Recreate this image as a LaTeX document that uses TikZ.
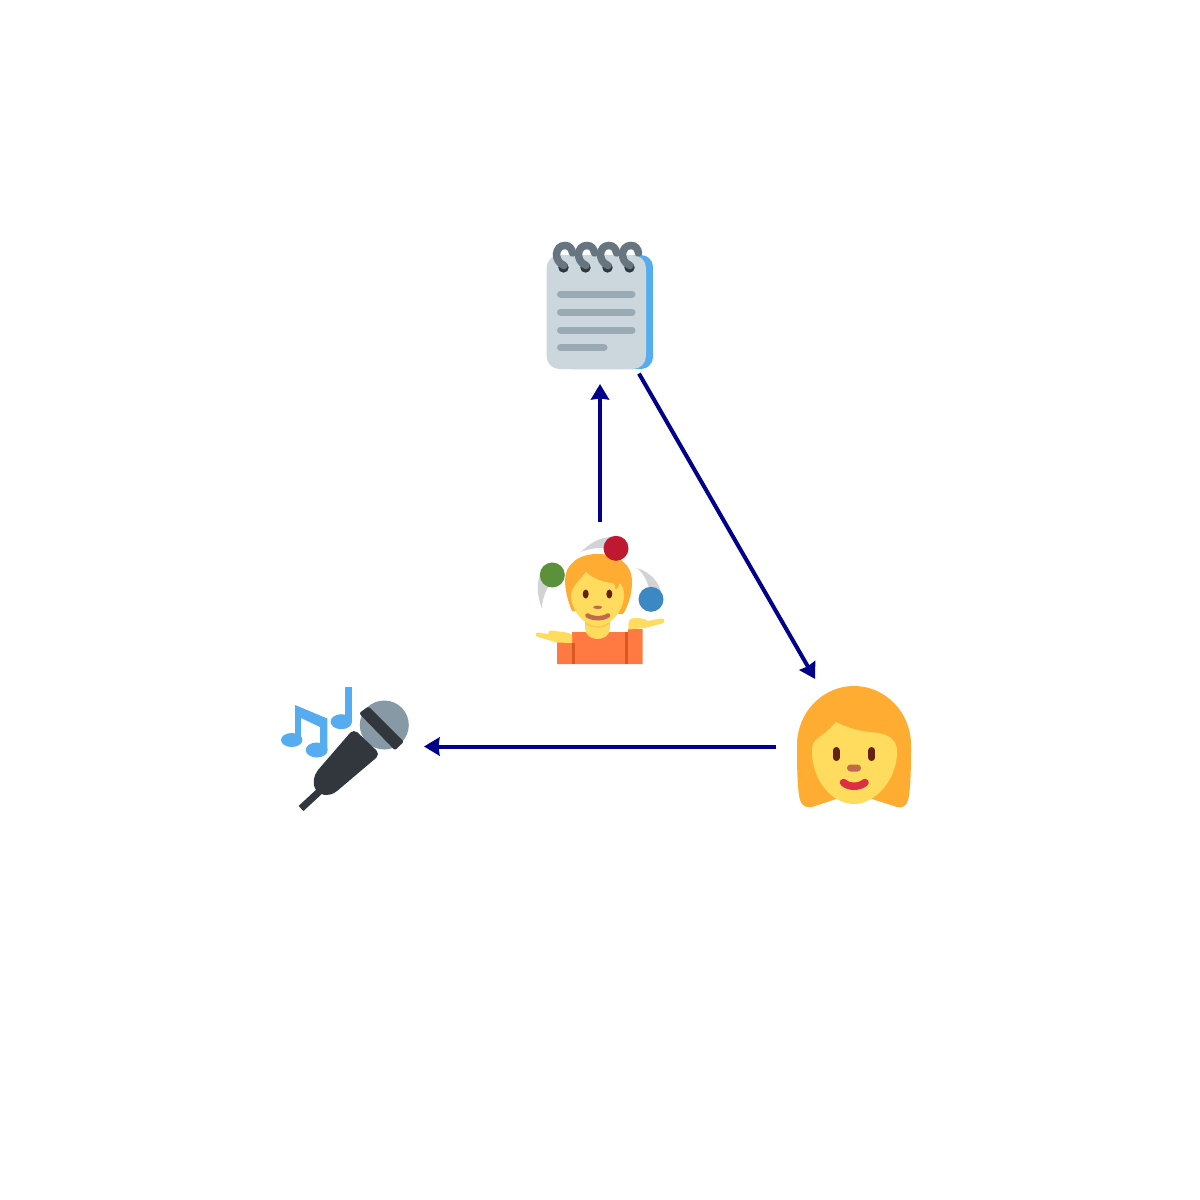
\documentclass[tikz,border=0pt]{standalone}
\usepackage{xcolor}
\usepackage{tikz}
\usetikzlibrary{arrows.meta}
\definecolor{arrowblue}{HTML}{00008B}
\definecolor{hairorange}{HTML}{FFAC33}
\definecolor{skin}{HTML}{FFDC5D}
\definecolor{skindark}{HTML}{F9CA55}
\definecolor{eyebrown}{HTML}{662113}
\definecolor{nosebrown}{HTML}{C1694F}
\definecolor{lipred}{HTML}{DD2E44}
\definecolor{notegrey}{HTML}{CCD6DD}
\definecolor{linegrey}{HTML}{99AAB5}
\definecolor{ringgrey}{HTML}{66757F}
\definecolor{darkgrey}{HTML}{31373D}
\definecolor{skyblue}{HTML}{55ACEE}
\definecolor{micgrey}{HTML}{8899A6}
\definecolor{shirt}{HTML}{FF7A42}
\definecolor{shirtdark}{HTML}{D9581F}
\definecolor{swoosh}{HTML}{D1D3D4}
\definecolor{ballred}{HTML}{BE1931}
\definecolor{ballgreen}{HTML}{5C913B}
\definecolor{ballblue}{HTML}{3B88C3}
\tikzset{>={Stealth[length=0.31cm,width=0.36cm,inset=0.02cm]}}
\tikzset{spot/.style={circle,minimum size=3.12cm,inner sep=0pt,outer sep=0pt}}
\tikzset{link/.style={->,arrowblue,line width=0.08cm}}

\begin{document}
\begin{tikzpicture}[x=0.02cm,y=-0.02cm]
\useasboundingbox (0,0) rectangle (1200,1200);

\node[spot] (juggler) at (600,600) {};
\node[spot] (notepad) at (600,306) {};
\node[spot] (woman) at (854,746.5) {};
\node[spot] (mic) at (346,746.5) {};

\draw[link] (juggler)--(notepad);
\draw[link] (notepad)--(woman);
\draw[link] (woman)--(mic);

%notepad
\fill[skyblue,rounded corners=0.24cm] (560,255) rectangle (653,369);
\fill[notegrey,rounded corners=0.26cm] (546.5,255) rectangle (646,369);
\foreach \y/\xend in {294/632,312/632,330/632,347.5/604}
  \draw[linegrey,line width=0.14cm,line cap=round] (560.5,\y)--(\xend,\y);
\foreach \dx in {0,22,44,66}{
  \fill[darkgrey] (563.5+\dx,267.5) circle (5.2);
  \draw[ringgrey,line width=0.15cm,line cap=round] (564+\dx,265.5) .. controls (558+\dx,263) and (556.5+\dx,258) .. (556.5+\dx,254) .. controls (557+\dx,249) and (560+\dx,245.5) .. (565+\dx,245.5) .. controls (569.5+\dx,245.5) and (572+\dx,249) .. (572.5+\dx,253);
}

%juggler
\fill[swoosh] (541.7,608) .. controls (535,590) and (536,570) .. (552,562) -- (556,575) .. controls (548,585) and (543,595) .. (541.7,608);
\fill[swoosh] (581,552) .. controls (590,543) and (600,537) .. (612,537) -- (615,550) .. controls (605,546) and (590,548) .. (581,552);
\fill[swoosh] (637,568) .. controls (650,572) and (660,582) .. (662,596) -- (650,598) .. controls (650,585) and (645,575) .. (637,568);
\fill[hairorange] (597,554) .. controls (620,554) and (632,565) .. (632,582) .. controls (632,595) and (628,606) .. (623,614) -- (572,611) .. controls (568,602) and (565,590) .. (565,580) .. controls (565,565) and (578,554) .. (597,554);
\fill[shirt] (557,664) -- (557,642) -- (572,642) -- (572,632) -- (628,632) -- (628,629) -- (642.7,629) -- (642.7,664) -- cycle;
\fill[shirtdark] (571.7,642.5) rectangle (575,664);
\fill[shirtdark] (625,632) rectangle (628.3,664);
\fill[skin] (585,620) rectangle (610,630);
\fill[skin] (585,628) .. controls (585,635) and (591,639) .. (597.5,639) .. controls (604,639) and (610,635) .. (610,628) -- cycle;
\fill[skindark] (585,624) .. controls (592,629) and (603,629) .. (610,624) -- (610,621) -- (585,621) -- cycle;
\fill[skin] (586,572) .. controls (592,578) and (602,582) .. (612,583) .. controls (615,584) and (616,587) .. (615,589) .. controls (617,590) and (619,586) .. (620,583) .. controls (623,587) and (624,591) .. (624,594) .. controls (624,612) and (610,626) .. (597.5,626) .. controls (585,626) and (571,612) .. (571,594) .. controls (573,585) and (580,580) .. (586,572);
\fill[eyebrown] (585.7,594) ellipse [x radius=3,y radius=4.5];
\fill[eyebrown] (609.3,594) ellipse [x radius=3,y radius=4.5];
\fill[nosebrown] (597.7,607.3) ellipse [x radius=4.5,y radius=1.7];
\draw[nosebrown,line width=0.09cm,line cap=round] (587.5,615.5) .. controls (593,619) and (603,619) .. (608,615.5);
\fill[skin] (538,632.5) .. controls (535,633) and (535,636) .. (538,637) -- (557,642.5) -- (572,643) -- (572,635) .. controls (570,632) and (560,632) .. (552,630.5) .. controls (550,630) and (548,631) .. (548,634) -- cycle;
\fill[skin] (628.3,629.5) -- (645,628) -- (662,623.5) .. controls (665.5,622.5) and (665,617.5) .. (661,618.5) -- (648,621) .. controls (645,618) and (636,617.5) .. (632,618.5) .. controls (629,619.5) and (628,622) .. (628.3,629.5);
\fill[ballred] (616,548.3) circle (12.5);
\fill[ballgreen] (552.3,575) circle (12.5);
\fill[ballblue] (651,599.3) circle (12.5);

%microphone
\fill[skyblue] (295,705) -- (327.3,718.5) -- (327.3,750) -- (320,750) -- (320,727) -- (301,718) -- (301,740) -- (295,740) -- cycle;
\fill[skyblue] (291.7,740) ellipse [x radius=10.7,y radius=7];
\fill[skyblue] (316.7,750) ellipse [x radius=11,y radius=7.5];
\fill[skyblue] (345,686.7) rectangle (352,722);
\fill[skyblue] (341.3,721.7) ellipse [x radius=10.7,y radius=7.5];
\fill[micgrey] (384.3,725) circle (24.5);
\filldraw[darkgrey,line width=0.08cm,line join=round] (362,713.5) -- (368.3,709) -- (401,741.7) -- (395,747.5) -- cycle;
\draw[darkgrey,line width=0.14cm] (301,808.5) -- (322,789);
\filldraw[darkgrey,line width=0.2cm,line join=round] (354,736) -- (373,754) -- (334,787) .. controls (328,792) and (322,790) .. (320,787) .. controls (318,784) and (318,778) .. (322,773) -- cycle;

%woman
\fill[hairorange] (854,686) .. controls (885,686) and (911,712) .. (911,745) .. controls (911,760) and (911,790) .. (908,800) .. controls (906,807) and (902,808) .. (897,807) -- (872,799) -- (836,799) -- (812,807) .. controls (806,808) and (802,806) .. (800,800) .. controls (797,790) and (797,760) .. (797,745) .. controls (797,712) and (823,686) .. (854,686);
\fill[skin] (836,722) .. controls (846,727) and (858,731) .. (870,732) .. controls (885,733) and (897,737) .. (897,752) .. controls (897,780) and (875,804) .. (854,804) .. controls (832,804) and (812,780) .. (812,752) .. controls (812,745) and (813,742) .. (818,738) .. controls (825,733) and (831,728) .. (836,722);
\draw[eyebrown,line width=0.14cm,line cap=round] (836,750.5)--(836,757.5);
\draw[eyebrown,line width=0.14cm,line cap=round] (871.7,750.5)--(871.7,757.5);
\fill[nosebrown,rounded corners=0.07cm] (847,764.5) rectangle (861,771.5);
\draw[lipred,line width=0.15cm,line cap=round] (843.5,782.5) .. controls (849,787.5) and (859,787.5) .. (865,782.5);
\end{tikzpicture}
\end{document}
